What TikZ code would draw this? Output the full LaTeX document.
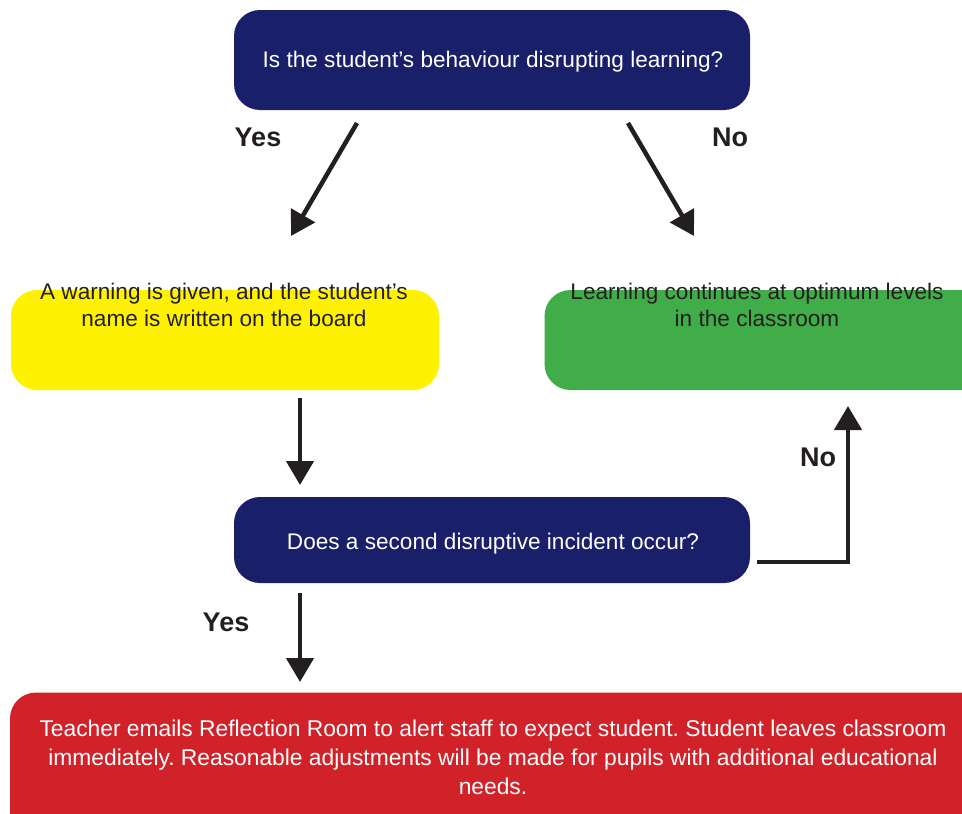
\documentclass[tikz,border=0pt]{standalone}
\usepackage{fontspec}
\setmainfont{Liberation Sans}
\usetikzlibrary{arrows.meta}
\definecolor{navy}{RGB}{26,31,106}
\definecolor{warnyellow}{RGB}{255,242,0}
\definecolor{okgreen}{RGB}{64,173,73}
\definecolor{alertred}{RGB}{209,34,41}
\definecolor{ink}{RGB}{35,31,32}
\def\boxfont{\fontsize{22.6}{27}\selectfont}
\def\ansfont{\fontsize{27}{30}\selectfont\bfseries}
\frenchspacing

\begin{document}
\begin{tikzpicture}[x=1pt,y=-1pt,
   box/.style={rounded corners=26pt, inner sep=0pt},
   boxtext/.style={align=center, font=\boxfont},
   arr/.style={line width=4.5pt, draw=ink, -{Triangle[length=24pt,width=27pt]}},
   ans/.style={font=\ansfont, text=ink}]
   %\draw[step=50,gray,very thin] (0,0) grid (962,814);
   \useasboundingbox (0,0) rectangle (962,814);
   \clip (0,0) rectangle (962,814);
   % boxes
   \node[box, fill=navy, minimum width=516pt, minimum height=100pt] (ask) at (492,60) {};
   \node[box, fill=warnyellow, minimum width=428pt, minimum height=100pt] (warn) at (225,340) {};
   \node[box, fill=okgreen, minimum width=445pt, minimum height=100pt] (cont) at (767,340) {};
   \node[box, fill=navy, minimum width=516pt, minimum height=86pt] (again) at (492,540) {};
   \node[box, fill=alertred, minimum width=980pt, minimum height=147pt] (refl) at (500,766) {};
   \node[boxtext, text=white] (asktxt) at (493,62)
      {Is the student’s behaviour disrupting learning?};
   \node[boxtext, text=white] (againtxt) at (493,544)
      {Does a second disruptive incident occur?};
   \node[boxtext, text=ink] (warntxt) at (224,305)
      {A warning is given, and the student’s\\name is written on the board};
   \node[boxtext, text=ink] (conttxt) at (757,305)
      {Learning continues at optimum levels\\in the classroom};
   \node[boxtext, text=white, font=\fontsize{22.8}{29}\selectfont] (refltxt) at (493,757)
      {Teacher emails Reflection Room to alert staff to expect student. Student leaves classroom\\
       immediately. Reasonable adjustments will be made for pupils with additional educational\\
       needs.};
   % arrows
   \coordinate (yesA) at (357,123);  \coordinate (yesB) at (291,236);
   \coordinate (noA) at (628,123);   \coordinate (noB) at (694,236);
   \coordinate (downA) at (300,398); \coordinate (downB) at (300,485);
   \coordinate (backA) at (757,562); \coordinate (backB) at (848,406);
   \coordinate (outA) at (300,593);  \coordinate (outB) at (300,682);
   \draw[arr] (yesA) -- (yesB);
   \draw[arr] (noA) -- (noB);
   \draw[arr] (downA) -- (downB);
   \draw[arr] (backA) -| (backB);
   \draw[arr] (outA) -- (outB);
   \node[ans] (yes1) at (258,137) {Yes};
   \node[ans] (no1) at (730,137) {No};
   \node[ans] (no2) at (818,457) {No};
   \node[ans] (yes2) at (226,622) {Yes};
\end{tikzpicture}
\end{document}
